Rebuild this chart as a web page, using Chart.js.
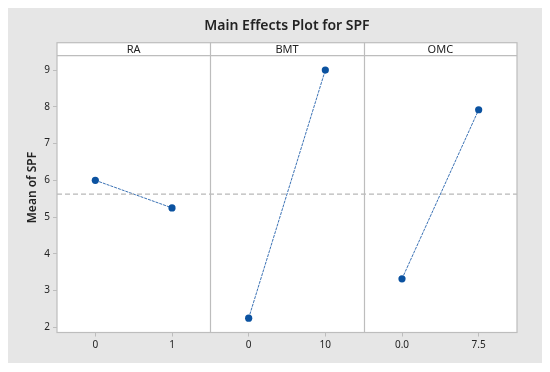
<!DOCTYPE html>
<html>
<head>
<meta charset="utf-8">
<script src="https://cdn.jsdelivr.net/npm/chart.js@4/dist/chart.umd.min.js"></script>
<style>
  html, body { margin: 0; padding: 0; background: #fff; }
  #wrap { width: 550px; height: 372px; position: relative; }
</style>
</head>
<body>
<div id="wrap"><canvas id="c"></canvas></div>
<script>
// ─── Data ─────────────────────────────────────────────────────────────────────

const TITLE        = "Main Effects Plot for SPF";
const Y_TITLE      = "Mean of SPF";
const FACTORS      = ["RA", "BMT", "OMC"];
const LEVEL_LABELS = [["0", "1"], ["0", "10"], ["0.0", "7.5"]];
const RA_MEANS     = [6.0, 5.25];
const BMT_MEANS    = [2.25, 9.0];
const OMC_MEANS    = [3.32, 7.92];
const OVERALL_MEAN = 5.625;
const Y_TICKS      = [2, 3, 4, 5, 6, 7, 8, 9];

// ─── Style ────────────────────────────────────────────────────────────────────

const PANEL_GRAY  = "#e6e6e6";
const FRAME_COLOR = "#bdbdbd";
const MARKER_BLUE = "#0b52a0";
const LINE_BLUE   = "#3b72b5";
const REF_GRAY    = "#b8b8b8";
const TEXT_DARK   = "#232323";
const FONT        = "'Noto Sans', 'Open Sans', sans-serif";

// ─── Build ────────────────────────────────────────────────────────────────────

const allMeans = [RA_MEANS, BMT_MEANS, OMC_MEANS];

// each factor gets one panel of width 1 on the x scale, levels at 1/4 and 3/4
const levelPos = (panel, level) => panel + (level + 0.5) / 2;

const tickPositions = [];
const tickLabels = [];
FACTORS.forEach((_, p) => {
  LEVEL_LABELS[p].forEach((lab, j) => {
    tickPositions.push(levelPos(p, j));
    tickLabels.push(lab);
  });
});

const factorSets = FACTORS.map((name, p) => ({
  label: name,
  data: allMeans[p].map((v, j) => ({ x: levelPos(p, j), y: v })),
  borderColor: LINE_BLUE,
  borderWidth: 1,
  borderDash: [3, 1],
  pointRadius: 3.6,
  pointBackgroundColor: MARKER_BLUE,
  pointBorderColor: MARKER_BLUE,
  pointBorderWidth: 0,
  tension: 0,
}));

const refSet = {
  label: "mean",
  data: [{ x: 0, y: OVERALL_MEAN }, { x: FACTORS.length, y: OVERALL_MEAN }],
  borderColor: REF_GRAY,
  borderWidth: 1.3,
  borderDash: [5, 3],
  pointRadius: 0,
};

// ─── Frame / strips / titles ──────────────────────────────────────────────────

const STRIP_H = 13;

const framePlugin = {
  id: "frame",
  beforeDraw(chart) {
    const { ctx, width, height, chartArea: a } = chart;
    ctx.save();
    ctx.fillStyle = "#fff";
    ctx.fillRect(0, 0, width, height);
    ctx.fillStyle = PANEL_GRAY;
    ctx.fillRect(8, 8, 534, 355);
    ctx.fillStyle = "#fff";
    ctx.fillRect(a.left, a.top - STRIP_H, a.right - a.left, a.bottom - a.top + STRIP_H);
    ctx.restore();
  },
  afterDatasetsDraw(chart) {
    const { ctx, chartArea: a, scales } = chart;
    const x = scales.x;
    const top = a.top - STRIP_H;
    ctx.save();
    ctx.strokeStyle = FRAME_COLOR;
    ctx.lineWidth = 1.2;
    ctx.strokeRect(a.left, top, a.right - a.left, a.bottom - top);
    ctx.beginPath();
    ctx.moveTo(a.left, a.top);
    ctx.lineTo(a.right, a.top);
    for (let p = 1; p < FACTORS.length; p++) {
      const px = Math.round(x.getPixelForValue(p)) + 0.5;
      ctx.moveTo(px, top);
      ctx.lineTo(px, a.bottom);
    }
    ctx.stroke();

    ctx.fillStyle = TEXT_DARK;
    ctx.textAlign = "center";
    ctx.textBaseline = "middle";
    ctx.font = "11px " + FONT;
    FACTORS.forEach((name, p) => {
      ctx.fillText(name, x.getPixelForValue(p + 0.5), a.top - STRIP_H / 2 + 0.5);
    });

    // main title, centred over the frame
    ctx.font = "600 14px " + FONT;
    ctx.fillText(TITLE, (a.left + a.right) / 2, 26);

    // y title, centred over frame + strip
    ctx.translate(33, (top + a.bottom) / 2);
    ctx.rotate(-Math.PI / 2);
    ctx.font = "600 12px " + FONT;
    ctx.fillText(Y_TITLE, 0, 0);
    ctx.restore();
  },
};

// ─── Chart ────────────────────────────────────────────────────────────────────

new Chart(document.getElementById("c"), {
  type: "line",
  data: { datasets: [refSet, ...factorSets] },
  options: {
    responsive: true,
    maintainAspectRatio: false,
    animation: false,
    layout: { padding: { left: 0, right: 33, top: 55.7, bottom: 0 } },
    plugins: {
      legend: { display: false },
      tooltip: { enabled: false },
      title: { display: false },
    },
    scales: {
      x: {
        type: "linear",
        min: 0,
        max: FACTORS.length,
        afterBuildTicks: (s) => { s.ticks = tickPositions.map((v) => ({ value: v })); },
        afterFit: (s) => { s.height = 39.5; },
        ticks: {
          autoSkip: false,
          maxRotation: 0,
          color: TEXT_DARK,
          padding: 3,
          font: { family: FONT, size: 10 },
          callback: (v, i) => tickLabels[i],
        },
        grid: { drawOnChartArea: false, drawTicks: true, tickLength: 4, color: FRAME_COLOR },
        border: { display: false },
      },
      y: {
        type: "linear",
        min: 1.86,
        max: 9.39,
        afterBuildTicks: (s) => { s.ticks = Y_TICKS.map((v) => ({ value: v })); },
        afterFit: (s) => { s.width = 57; },
        ticks: {
          color: TEXT_DARK,
          padding: 3,
          font: { family: FONT, size: 10 },
        },
        grid: { drawOnChartArea: false, drawTicks: true, tickLength: 4, color: FRAME_COLOR },
        border: { display: false },
      },
    },
  },
  plugins: [framePlugin],
});
</script>
</body>
</html>
